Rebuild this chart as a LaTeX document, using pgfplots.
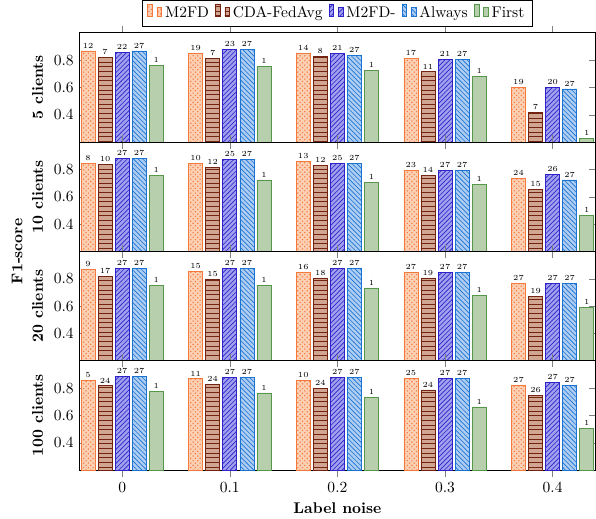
\documentclass[border=0pt]{standalone}
\usepackage{pgfplots}
\pgfplotsset{compat=1.18}
\usepgfplotslibrary{groupplots}
\usetikzlibrary{patterns}
\definecolor{orD}{RGB}{245,121,58}
\definecolor{orL}{RGB}{252,208,180}
\definecolor{brD}{RGB}{115,35,15}
\definecolor{brL}{RGB}{208,165,145}
\definecolor{buD}{RGB}{45,35,200}
\definecolor{buL}{RGB}{160,160,238}
\definecolor{azD}{RGB}{25,115,210}
\definecolor{azL}{RGB}{175,205,242}
\definecolor{grD}{RGB}{85,150,75}
\definecolor{grL}{RGB}{183,207,172}
\pgfplotsset{
  sm2fd/.style={draw=orD, fill=orL, postaction={pattern=crosshatch dots, pattern color=orD}},
  scda/.style={draw=brD, fill=brL, postaction={pattern=horizontal lines, pattern color=brD}},
  sm2fdm/.style={draw=buD, fill=buL, postaction={pattern=north east lines, pattern color=buD}},
  salw/.style={draw=azD, fill=azL, postaction={pattern=north west lines, pattern color=azD}},
  sfirst/.style={draw=grD, fill=grL},
  mybars/.style={ybar=2pt, /pgf/bar width=9pt},
}
\begin{document}
\begin{tikzpicture}
\begin{groupplot}[
  group style={group size=1 by 4, vertical sep=0pt, xticklabels at=edge bottom},
  width=333pt, height=70.5pt, scale only axis,
  mybars,
  ymin=0.2, ymax=1, xmin=-0.04, xmax=0.44,
  xtick={0,0.1,0.2,0.3,0.4}, ytick={0.4,0.6,0.8},
  nodes near coords, point meta=explicit symbolic,
  every node near coord/.append style={font=\tiny, inner sep=1.5pt},
  ylabel style={font=\bfseries},
  xlabel style={font=\bfseries},
]
\nextgroupplot[ylabel={5 clients},
  legend style={at={(0.5,1)}, anchor=south, yshift=4pt, legend columns=5, /tikz/every even column/.append style={column sep=2pt}},
  legend entries={M2FD, CDA-FedAvg, M2FD-, Always, First}]
\addplot[sm2fd] coordinates {(0,0.866) [12] (0.1,0.848) [19] (0.2,0.848) [14] (0.3,0.814) [17] (0.4,0.602) [19]};
\addplot[scda] coordinates {(0,0.817) [7] (0.1,0.809) [7] (0.2,0.826) [8] (0.3,0.714) [11] (0.4,0.418) [7]};
\addplot[sm2fdm] coordinates {(0,0.858) [22] (0.1,0.880) [23] (0.2,0.848) [21] (0.3,0.807) [21] (0.4,0.602) [20]};
\addplot[salw] coordinates {(0,0.866) [27] (0.1,0.880) [27] (0.2,0.836) [27] (0.3,0.807) [27] (0.4,0.589) [27]};
\addplot[sfirst] coordinates {(0,0.763) [1] (0.1,0.753) [1] (0.2,0.723) [1] (0.3,0.682) [1] (0.4,0.229) [1]};
\nextgroupplot[ylabel={10 clients}]
\addplot[sm2fd] coordinates {(0,0.846) [8] (0.1,0.846) [10] (0.2,0.858) [13] (0.3,0.795) [23] (0.4,0.736) [24]};
\addplot[scda] coordinates {(0,0.839) [10] (0.1,0.817) [12] (0.2,0.828) [12] (0.3,0.758) [14] (0.4,0.652) [15]};
\addplot[sm2fdm] coordinates {(0,0.880) [27] (0.1,0.870) [25] (0.2,0.846) [25] (0.3,0.795) [27] (0.4,0.765) [26]};
\addplot[salw] coordinates {(0,0.880) [27] (0.1,0.870) [27] (0.2,0.846) [27] (0.3,0.795) [27] (0.4,0.723) [27]};
\addplot[sfirst] coordinates {(0,0.755) [1] (0.1,0.723) [1] (0.2,0.704) [1] (0.3,0.692) [1] (0.4,0.466) [1]};
\nextgroupplot[ylabel={20 clients}]
\addplot[sm2fd] coordinates {(0,0.868) [9] (0.1,0.855) [15] (0.2,0.846) [16] (0.3,0.846) [27] (0.4,0.765) [27]};
\addplot[scda] coordinates {(0,0.817) [17] (0.1,0.795) [15] (0.2,0.806) [18] (0.3,0.806) [19] (0.4,0.670) [19]};
\addplot[sm2fdm] coordinates {(0,0.875) [27] (0.1,0.875) [27] (0.2,0.875) [27] (0.3,0.846) [27] (0.4,0.765) [27]};
\addplot[salw] coordinates {(0,0.875) [27] (0.1,0.875) [27] (0.2,0.875) [27] (0.3,0.846) [27] (0.4,0.765) [27]};
\addplot[sfirst] coordinates {(0,0.753) [1] (0.1,0.753) [1] (0.2,0.733) [1] (0.3,0.679) [1] (0.4,0.589) [1]};
\nextgroupplot[ylabel={100 clients}, xlabel={Label noise}]
\addplot[sm2fd] coordinates {(0,0.856) [5] (0.1,0.868) [11] (0.2,0.856) [10] (0.3,0.868) [25] (0.4,0.817) [27]};
\addplot[scda] coordinates {(0,0.817) [24] (0.1,0.829) [24] (0.2,0.797) [24] (0.3,0.787) [24] (0.4,0.746) [26]};
\addplot[sm2fdm] coordinates {(0,0.888) [27] (0.1,0.878) [27] (0.2,0.878) [27] (0.3,0.868) [27] (0.4,0.839) [27]};
\addplot[salw] coordinates {(0,0.888) [27] (0.1,0.878) [27] (0.2,0.878) [27] (0.3,0.868) [27] (0.4,0.817) [27]};
\addplot[sfirst] coordinates {(0,0.775) [1] (0.1,0.765) [1] (0.2,0.734) [1] (0.3,0.662) [1] (0.4,0.508) [1]};
\end{groupplot}
\node[rotate=90, anchor=south, font=\bfseries] at ([xshift=-33pt]group c1r2.south west) {F1-score};
\path ([xshift=-51pt]group c1r2.south west) -- ++(0,1pt);
\end{tikzpicture}
\end{document}
